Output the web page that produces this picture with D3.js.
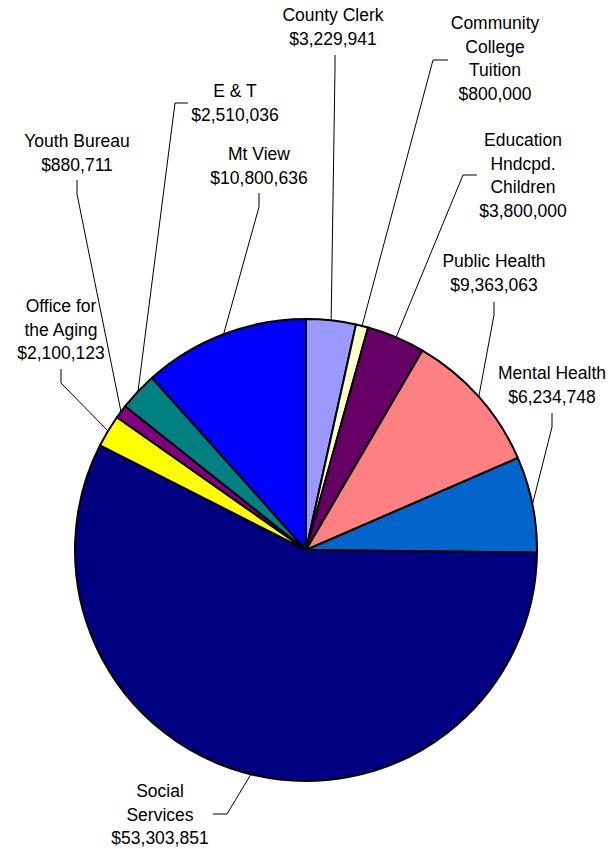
<!DOCTYPE html>
<html>
<head>
<meta charset="utf-8">
<script src="https://cdn.jsdelivr.net/npm/d3@7"></script>
<style>
  html, body { margin: 0; padding: 0; background: #fff; }
  svg { display: block; }
  text { font-family: Arial, "Liberation Sans", sans-serif; font-size: 17.5px; fill: #000; }
</style>
</head>
<body>
<svg id="chart" width="608" height="849"></svg>
<script>
// Budget by department, clockwise from 12 o'clock
const departments = [
  "County Clerk",
  "Community College Tuition",
  "Education Hndcpd. Children",
  "Public Health",
  "Mental Health",
  "Social Services",
  "Office for the Aging",
  "Youth Bureau",
  "E & T",
  "Mt View"
];
const amounts = [3229941, 800000, 3800000, 9363063, 6234748, 53303851, 2100123, 880711, 2510036, 10800636];
const labelLines = [
  ["County Clerk"],
  ["Community", "College", "Tuition"],
  ["Education", "Hndcpd.", "Children"],
  ["Public Health"],
  ["Mental Health"],
  ["Social", "Services"],
  ["Office for", "the Aging"],
  ["Youth Bureau"],
  ["E & T"],
  ["Mt View"]
];
const sliceColors = ["#9999FF", "#FFFFCC", "#660066", "#FF8080", "#0066CC", "#000080", "#FFFF00", "#800080", "#008080", "#0000FF"];

// Label placement: text anchor (x, first baseline) and the leader's elbow points
const labelLayout = [
  { x: 333, y: 21,  leader: [[335, 55], [335, 68]] },
  { x: 495, y: 29,  leader: [[448, 60], [433, 60]] },
  { x: 523, y: 146, leader: [[477, 175], [463, 175]] },
  { x: 494, y: 267, leader: [[494, 302], [494, 315]] },
  { x: 552, y: 379, leader: [[552, 413], [552, 427]] },
  { x: 160, y: 797, leader: [[213, 814], [227, 814]] },
  { x: 61,  y: 312, leader: [[61, 369], [61, 383]] },
  { x: 77,  y: 147, leader: [[77, 180], [77, 194]] },
  { x: 235, y: 97,  leader: [[188, 103], [175, 103]] },
  { x: 259, y: 160, leader: [[259, 193], [259, 207]] }
];

const cx = 306, cy = 550, radius = 231, lineHeight = 23.6;
const fmt = d3.format("$,");

const svg = d3.select("#chart");
const data = departments.map((name, i) => ({ name, value: amounts[i], i }));

const pie = d3.pie().value(d => d.value).sort(null);
const arcs = pie(data);
const arc = d3.arc().innerRadius(0).outerRadius(radius);

const g = svg.append("g").attr("transform", `translate(${cx},${cy})`);
g.selectAll("path.slice")
  .data(arcs)
  .enter().append("path")
  .attr("class", "slice")
  .attr("d", arc)
  .attr("fill", d => sliceColors[d.data.i])
  .attr("stroke", "#000")
  .attr("stroke-width", 2)
  .attr("stroke-linejoin", "round");

// Leader lines: from the label elbow to the slice's mid-angle on the rim
const line = d3.line();
arcs.forEach(a => {
  const lay = labelLayout[a.data.i];
  const mid = (a.startAngle + a.endAngle) / 2;
  const rim = [cx + radius * Math.sin(mid), cy - radius * Math.cos(mid)];
  svg.append("path")
    .attr("d", line([...lay.leader, rim]))
    .attr("fill", "none")
    .attr("stroke", "#000")
    .attr("stroke-width", 1);
});

// Labels: name lines followed by the dollar amount
data.forEach(d => {
  const lay = labelLayout[d.i];
  const lines = [...labelLines[d.i], fmt(d.value)];
  const t = svg.append("text")
    .attr("text-anchor", "middle")
    .attr("x", lay.x)
    .attr("y", lay.y);
  lines.forEach((s, k) => {
    t.append("tspan")
      .attr("x", lay.x)
      .attr("dy", k === 0 ? 0 : lineHeight)
      .text(s);
  });
});
</script>
</body>
</html>
